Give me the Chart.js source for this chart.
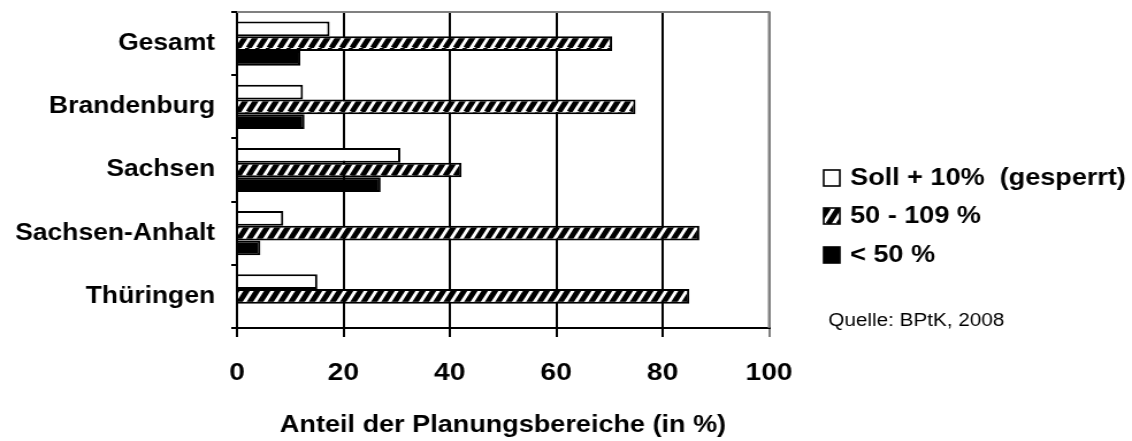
<!DOCTYPE html>
<html>
<head>
<meta charset="utf-8">
<script src="https://cdn.jsdelivr.net/npm/chart.js@4.4.1/dist/chart.umd.min.js"></script>
<style>
  html, body { margin: 0; padding: 0; background: #fff; overflow: hidden; }
  /* the original graphic is stretched sideways, so the canvas is too */
  #chartPlanung { display: block; width: 1132px; height: 441px; }
</style>
</head>
<body>
<canvas id="chartPlanung" width="984" height="441" style="width:1132px;height:441px"></canvas>
<script>
const regions = ["Gesamt", "Brandenburg", "Sachsen", "Sachsen-Anhalt", "Thüringen"];
const sollPlus10 = [17.4, 12.4, 30.7, 8.7, 15.1];
const range50to109 = [70.5, 74.9, 42.2, 86.9, 85.0];
const below50 = [11.9, 12.7, 27.0, 4.4, 0];
const seriesLabels = ["Soll + 10%  (gesperrt)", "50 - 109 %", "< 50 %"];
const sourceText = "Quelle: BPtK, 2008";

const FONT = "'Liberation Sans', Arial, sans-serif";

function makeHatch() {
  const w = 9, h = 16;
  const c = document.createElement("canvas");
  c.width = w;
  c.height = h;
  const g = c.getContext("2d");
  g.fillStyle = "#fff";
  g.fillRect(0, 0, w, h);
  g.strokeStyle = "#000";
  g.lineWidth = 4.8;
  [-w, 0, w].forEach((dx) => {
    g.beginPath();
    g.moveTo(dx, h);
    g.lineTo(dx + w, 0);
    g.stroke();
  });
  return g.createPattern(c, "repeat");
}

const hatch = makeHatch();

// legend + source note to the right of the plot, plus the grey top/right frame
const sidePlugin = {
  id: "sideLegend",
  afterDraw(chart) {
    const ctx = chart.ctx;
    const area = chart.chartArea;
    ctx.save();
    ctx.strokeStyle = "#808080";
    ctx.lineWidth = 2;
    ctx.beginPath();
    ctx.moveTo(area.left, area.top);
    ctx.lineTo(area.right, area.top);
    ctx.lineTo(area.right, area.bottom);
    ctx.stroke();

    const rows = [178, 216, 255];
    chart.data.datasets.forEach((ds, i) => {
      const y = rows[i];
      ctx.fillStyle = ds.backgroundColor;
      ctx.fillRect(716, y - 8, 14, 16);
      ctx.strokeStyle = "#000";
      ctx.lineWidth = 1.6;
      ctx.strokeRect(716, y - 8, 14, 16);
      ctx.fillStyle = "#000";
      ctx.font = "bold 23.5px " + FONT;
      ctx.textBaseline = "middle";
      ctx.textAlign = "left";
      ctx.fillText(ds.label, 739, y + 1);
    });

    ctx.font = "18px " + FONT;
    ctx.fillText(sourceText, 720, 321);
    ctx.restore();
  }
};

const canvas = document.getElementById("chartPlanung");
const ctx = canvas.getContext("2d");

const config = {
  type: "bar",
  data: {
    labels: regions,
    datasets: [
      {
        label: seriesLabels[0],
        data: sollPlus10,
        backgroundColor: "#ffffff",
        borderColor: "#000",
        borderWidth: 2,
      },
      {
        label: seriesLabels[1],
        data: range50to109,
        backgroundColor: hatch,
        borderColor: "#000",
        borderWidth: 2,
      },
      {
        label: seriesLabels[2],
        data: below50,
        backgroundColor: "#000000",
        borderColor: "#000",
        borderWidth: 2,
      }
    ]
  },
  options: {
    indexAxis: "y",
    responsive: false,
    animation: false,
    devicePixelRatio: 1,
    datasets: {
      bar: { categoryPercentage: 0.7, barPercentage: 1.0 }
    },
    layout: { padding: { top: 12, left: 0, right: 315.5, bottom: 0 } },
    plugins: {
      legend: { display: false },
      tooltip: { enabled: false }
    },
    scales: {
      x: {
        min: 0,
        max: 100,
        afterFit: (scale) => { scale.height = 113; },
        ticks: {
          stepSize: 20,
          color: "#000",
          padding: 22,
          font: { family: FONT, size: 24.5, weight: "bold" },
        },
        grid: {
          color: (c) => (c.tick && c.tick.value === 100 ? "#808080" : "#000"),
          lineWidth: 2,
          tickLength: 9,
        },
        border: { color: "#000", width: 2 },
        title: {
          display: true,
          text: "Anteil der Planungsbereiche (in %)",
          color: "#000",
          font: { family: FONT, size: 23.5, weight: "bold" },
          padding: { top: 0, bottom: 1 },
        }
      },
      y: {
        afterFit: (scale) => {
          scale.width = 206;
          scale.paddingTop = 0;
          scale.paddingBottom = 0;
        },
        ticks: {
          color: "#000",
          padding: 14,
          font: { family: FONT, size: 23, weight: "bold" },
        },
        grid: {
          offset: true,
          drawOnChartArea: false,
          color: "#000",
          lineWidth: 2,
          tickLength: 5,
        },
        border: { color: "#000", width: 2 }
      }
    }
  },
  plugins: [sidePlugin]
};

const chart = new Chart(ctx, config);
</script>
</body>
</html>
